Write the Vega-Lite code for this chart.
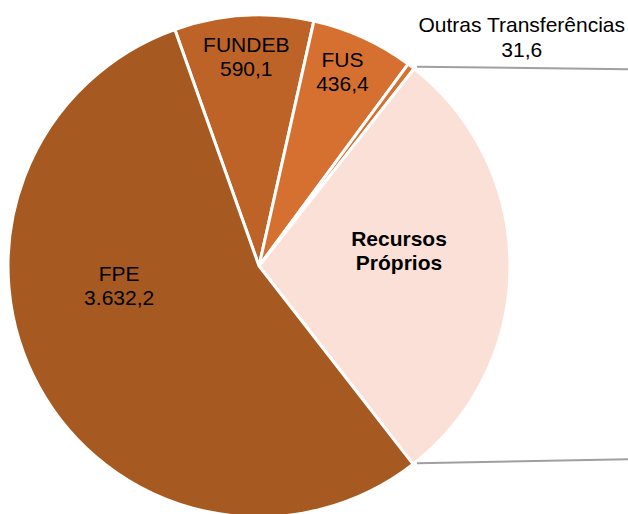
{
  "$schema": "https://vega.github.io/schema/vega-lite/v6.json",
  "width": 628,
  "height": 514,
  "autosize": "none",
  "padding": {"left": 0, "top": 0, "right": 0, "bottom": 0},
  "background": "white",
  "config": {"view": {"stroke": null}, "font": "Liberation Sans"},
  "layer": [
    {
      "data": {
        "values": [
          {"categoria": "FUNDEB", "valor": 590.1, "ordem": 1, "rotulo": "FUNDEB\n590,1"},
          {"categoria": "FUS", "valor": 436.4, "ordem": 2, "rotulo": "FUS\n436,4"},
          {"categoria": "Outras Transferências", "valor": 31.6, "ordem": 3, "rotulo": "Outras Transferências\n31,6"},
          {"categoria": "Recursos Próprios", "valor": 1905, "ordem": 4, "rotulo": "Recursos\nPróprios"},
          {"categoria": "FPE", "valor": 3632.2, "ordem": 5, "rotulo": "FPE\n3.632,2"}
        ]
      },
      "encoding": {
        "theta": {"field": "valor", "type": "quantitative", "stack": true, "scale": {"range": [-0.342, 5.941]}},
        "order": {"field": "ordem", "type": "quantitative"},
        "x": {"datum": 0, "type": "quantitative", "scale": {"domain": [-1.032, 1.47], "nice": false, "zero": false}, "axis": null},
        "y": {"datum": 0, "type": "quantitative", "scale": {"domain": [-0.988, 1.06], "nice": false, "zero": false}, "axis": null}
      },
      "layer": [
        {
          "mark": {"type": "arc", "radius": 251, "stroke": "white", "strokeWidth": 3},
          "encoding": {
            "color": {
              "field": "categoria",
              "type": "nominal",
              "scale": {
                "domain": ["FUNDEB", "FUS", "Outras Transferências", "Recursos Próprios", "FPE"],
                "range": ["#BE6328", "#D57030", "#D57030", "#FBE0D8", "#A65A22"]
              },
              "legend": null
            }
          }
        },
        {
          "mark": {"type": "text", "radius": 210, "dy": -10, "fontSize": 21, "lineHeight": 24, "lineBreak": "\n", "color": "#000000", "align": "center", "baseline": "middle"},
          "encoding": {"text": {"condition": {"test": "datum.categoria === 'FUNDEB'", "field": "rotulo"}, "value": ""}}
        },
        {
          "mark": {"type": "text", "radius": 213, "dx": -5, "dy": -11, "fontSize": 21, "lineHeight": 24, "lineBreak": "\n", "color": "#000000", "align": "center", "baseline": "middle"},
          "encoding": {"text": {"condition": {"test": "datum.categoria === 'FUS'", "field": "rotulo"}, "value": ""}}
        },
        {
          "mark": {"type": "text", "radius": 140, "dy": -26, "fontSize": 21, "fontWeight": "bold", "lineHeight": 24, "lineBreak": "\n", "color": "#000000", "align": "center", "baseline": "middle"},
          "encoding": {"text": {"condition": {"test": "datum.categoria === 'Recursos Próprios'", "field": "rotulo"}, "value": ""}}
        },
        {
          "mark": {"type": "text", "radius": 139, "dx": -18, "dy": -58, "fontSize": 21, "lineHeight": 24, "lineBreak": "\n", "color": "#000000", "align": "center", "baseline": "middle"},
          "encoding": {"text": {"condition": {"test": "datum.categoria === 'FPE'", "field": "rotulo"}, "value": ""}}
        },
        {
          "mark": {"type": "text", "radius": 290, "dx": 87, "dy": -9, "fontSize": 21, "lineHeight": 25, "lineBreak": "\n", "color": "#000000", "align": "center", "baseline": "middle"},
          "encoding": {"text": {"condition": {"test": "datum.categoria === 'Outras Transferências'", "field": "rotulo"}, "value": ""}}
        }
      ]
    },
    {
      "data": {
        "values": [
          {"x": 0.629, "y": 0.794, "x2": 1.47, "y2": 0.784},
          {"x": 0.629, "y": -0.786, "x2": 1.47, "y2": -0.770}
        ]
      },
      "mark": {"type": "rule", "color": "#A0A0A0", "strokeWidth": 2},
      "encoding": {
        "x": {"field": "x", "type": "quantitative", "axis": null},
        "x2": {"field": "x2"},
        "y": {"field": "y", "type": "quantitative", "axis": null},
        "y2": {"field": "y2"}
      }
    }
  ]
}
